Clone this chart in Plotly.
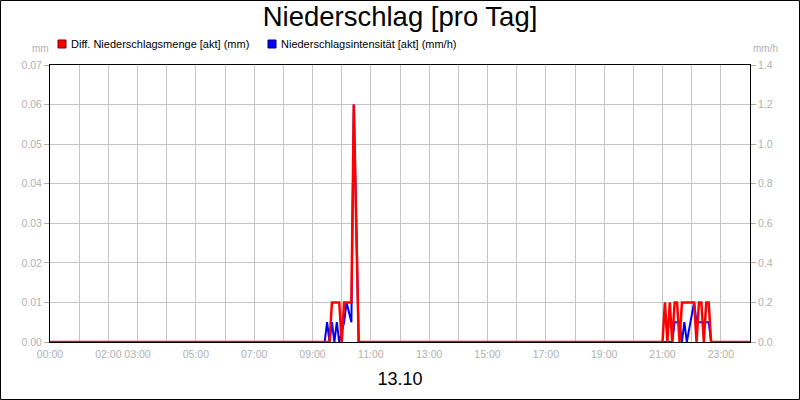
import pandas as pd
import plotly.graph_objects as go

DAY = "2023-10-13"

# Diff. Niederschlagsmenge [akt] (mm)
red_time = ["00:00", "09:35", "09:40", "09:45", "09:50", "09:55", "10:00", "10:05",
            "10:10", "10:15", "10:20", "10:25", "10:35",
            "21:00", "21:05", "21:10", "21:15", "21:20", "21:25", "21:30", "21:35",
            "21:40", "21:45", "21:50", "21:55", "22:00", "22:05", "22:10", "22:15",
            "22:20", "22:25", "22:30", "22:35", "22:40", "24:00"]
red_mm = [0, 0, 0.01, 0.01, 0.01, 0.01, 0, 0.01,
          0.01, 0.01, 0.01, 0.06, 0,
          0, 0.01, 0, 0.01, 0, 0.01, 0.01, 0,
          0.01, 0.01, 0.01, 0.01, 0.01, 0.01, 0, 0.01,
          0.01, 0, 0.01, 0.01, 0, 0]

# Niederschlagsintensität [akt] (mm/h)
blue_time = ["00:00", "09:25", "09:30", "09:35", "09:40", "09:45", "09:50", "09:55",
             "10:05", "10:10", "10:20", "10:25", "10:35",
             "21:00", "21:20", "21:25", "21:30", "21:35", "21:40", "21:45", "21:50",
             "22:05", "22:10", "22:15", "22:20", "22:25", "22:30", "22:35", "22:40", "24:00"]
blue_mmh = [0, 0, 0.1, 0, 0.1, 0, 0.1, 0,
            0.1, 0.2, 0.1, 1.2, 0,
            0, 0, 0.1, 0.1, 0.1, 0, 0.1, 0,
            0.2, 0.1, 0.1, 0.1, 0.1, 0.1, 0.1, 0, 0]

hour_ticks = list(range(0, 25))
labeled_hours = [0, 2, 3, 5, 7, 9, 11, 13, 15, 17, 19, 21, 23]

left_ticks = [0, 0.01, 0.02, 0.03, 0.04, 0.05, 0.06, 0.07]
right_ticks = [0, 0.2, 0.4, 0.6, 0.8, 1.0, 1.2, 1.4]

legend_names = ["Diff. Niederschlagsmenge [akt] (mm)", "Niederschlagsintensität [akt] (mm/h)"]


def to_dt(times):
    base = pd.Timestamp(DAY)
    return [base + pd.to_timedelta(t + ":00") for t in times]


base = pd.Timestamp(DAY)
tickvals = [base + pd.Timedelta(hours=h) for h in hour_ticks]
ticktext = [f"{h:02d}:00" if h in labeled_hours else "" for h in hour_ticks]

RED = "#ff0000"
BLUE = "#0000ff"
GRAY = "#b0b0b0"
GRID = "#c4c4c4"
FONT = "Liberation Sans, Arial, sans-serif"
TICK_SIZE = 10.5

L, R, T, B = 50, 50, 65, 58
PW, PH = 800 - L - R, 400 - T - B


def px(xp):
    return (xp - L) / PW


def py(yp):
    return (400 - B - yp) / PH


fig = go.Figure()
# blue on the base subplot (right axis, mm/h), red on the overlay (left axis, mm) so red is on top
fig.add_trace(go.Scatter(x=to_dt(blue_time), y=blue_mmh, mode="lines", yaxis="y",
                         line=dict(color=BLUE, width=2), showlegend=False,
                         name=legend_names[1]))
fig.add_trace(go.Scatter(x=to_dt(red_time), y=red_mm, mode="lines", yaxis="y2",
                         line=dict(color=RED, width=2.5), showlegend=False,
                         name=legend_names[0]))

fig.update_layout(
    width=800, height=400,
    margin=dict(l=L, r=R, t=T, b=B, pad=0),
    paper_bgcolor="white", plot_bgcolor="white",
    font=dict(family=FONT, size=11, color="black"),
    title=dict(text="Niederschlag [pro Tag]", x=0.5, xanchor="center",
               y=1 - 7 / 400, yanchor="top", yref="container",
               font=dict(size=27.5, color="black", family=FONT)),
    showlegend=False,
    xaxis=dict(type="date",
               range=[tickvals[0], tickvals[-1]],
               tickmode="array", tickvals=tickvals, ticktext=ticktext,
               tickangle=0, automargin=False,
               showgrid=True, gridcolor=GRID, gridwidth=1,
               showline=True, linecolor="black", linewidth=1, mirror=True,
               ticks="", ticklabelstandoff=2,
               tickfont=dict(size=TICK_SIZE, color=GRAY),
               title=dict(text="13.10", font=dict(size=18, color="black"), standoff=13),
               zeroline=False, fixedrange=True),
    yaxis=dict(range=[0, 1.4], tickmode="array", tickvals=right_ticks,
               tickformat=".1f", side="right", automargin=False,
               showgrid=True, gridcolor=GRID, gridwidth=1,
               showline=True, linecolor="black", linewidth=1, mirror=True,
               ticks="outside", ticklen=5, tickcolor=GRAY,
               tickfont=dict(size=TICK_SIZE, color=GRAY),
               zeroline=False, fixedrange=True),
    yaxis2=dict(range=[0, 0.07], tickmode="array", tickvals=left_ticks,
                tickformat=".2f", overlaying="y", side="left", automargin=False,
                showgrid=False, showline=False,
                ticks="outside", ticklen=5, tickcolor=GRAY,
                tickfont=dict(size=TICK_SIZE, color=GRAY),
                zeroline=False, fixedrange=True),
)

fig.add_annotation(text="mm", xref="paper", yref="paper",
                   x=px(40), y=py(48), xanchor="center", yanchor="middle",
                   showarrow=False, font=dict(size=10, color=GRAY))
fig.add_annotation(text="mm/h", xref="paper", yref="paper",
                   x=px(765), y=py(48), xanchor="center", yanchor="middle",
                   showarrow=False, font=dict(size=10, color=GRAY))

# legend: coloured squares with labels
legend_x = [58, 268]
legend_colors = [RED, BLUE]
legend_edges = ["#700000", "#000070"]
for lx, name, col, edge in zip(legend_x, legend_names, legend_colors, legend_edges):
    fig.add_shape(type="rect", xref="paper", yref="paper",
                  x0=px(lx), x1=px(lx + 8), y0=py(48), y1=py(40),
                  fillcolor=col, line=dict(color=edge, width=1), layer="above")
    fig.add_annotation(text=name, xref="paper", yref="paper",
                       x=px(lx + 11), y=py(44), xanchor="left", yanchor="middle",
                       showarrow=False, font=dict(size=11, color="black"))

# outer frame of the picture
fig.add_shape(type="rect", xref="paper", yref="paper",
              x0=px(0.5), x1=px(799.5), y0=py(399.5), y1=py(0.5),
              line=dict(color="black", width=1), layer="above")

fig.write_html("out.html", config={"displayModeBar": False},
               post_script="document.body.style.margin='0';"
                           "document.body.style.padding='0';"
                           "document.body.style.overflow='hidden';")
